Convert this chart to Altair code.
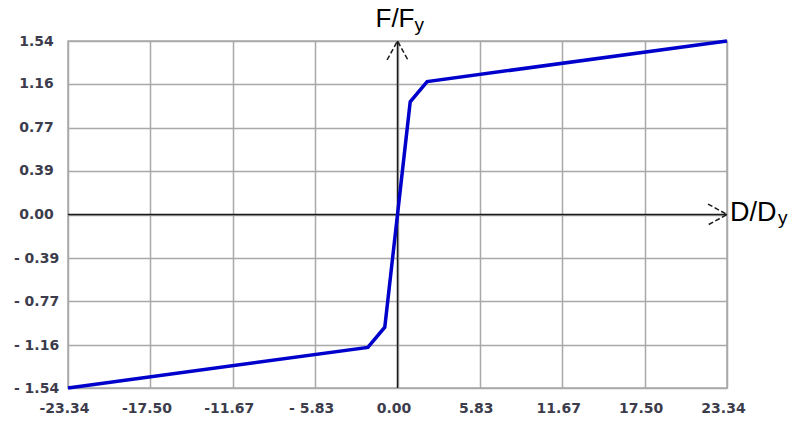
import altair as alt
import pandas as pd

# Normalised backbone curve: force / yield force against displacement / yield displacement
disp = [-23.34, -2.10, -0.90, 0.00, 0.90, 2.10, 23.34]
force = [-1.54, -1.18, -1.00, 0.00, 1.00, 1.18, 1.54]

# Axis tick positions
x_ticks = [-23.34, -17.50, -11.67, -5.83, 0.00, 5.83, 11.67, 17.50, 23.34]
y_ticks = [-1.54, -1.16, -0.77, -0.39, 0.00, 0.39, 0.77, 1.16, 1.54]

# Axis captions (main text + subscript)
x_caption = ["D/D", "y"]
y_caption = ["F/F", "y"]

X_MIN, X_MAX = x_ticks[0], x_ticks[-1]
Y_MIN, Y_MAX = y_ticks[0], y_ticks[-1]

GRID = "#a9a9a9"
INK = "#1a1a1a"
LABEL = "#3c3c4c"

curve = pd.DataFrame({"d": disp, "f": force})

xs = alt.Scale(domain=[X_MIN, X_MAX], nice=False, zero=False)
ys = alt.Scale(domain=[Y_MIN, Y_MAX], nice=False, zero=False)

# fixed-width style labels: "-23.34", "- 5.83", "0.00"
lab = ("datum.value < 0 ? (abs(datum.value) < 10 ? '- ' : '-') + format(abs(datum.value), '.2f')"
       " : format(datum.value, '.2f')")

common_axis = dict(
    grid=True, gridColor=GRID, gridWidth=1.5, domain=False, ticks=False, tickSize=0,
    labelExpr=lab, labelFont="DejaVu Sans", labelFontSize=14, labelFontWeight="bold",
    labelColor=LABEL, labelFlush=False, labelOverlap=False, labelBaseline="middle",
    title=None,
)
x_axis = alt.Axis(values=x_ticks, labelPadding=20, labelOffset=-4, **common_axis)
y_axis = alt.Axis(values=y_ticks, labelPadding=32, labelAlign="center", **common_axis)

# Frame with grid (drawn by the axes)
frame = alt.Chart(curve).mark_line(opacity=0).encode(
    x=alt.X("d:Q", scale=xs, axis=x_axis),
    y=alt.Y("f:Q", scale=ys, axis=y_axis),
)

# Coordinate axes through the origin
vaxis = pd.DataFrame({"x": [0.0], "y": [Y_MIN], "y2": [Y_MAX]})
haxis = pd.DataFrame({"y": [0.0], "x": [X_MIN], "x2": [X_MAX]})

v_rule = alt.Chart(vaxis).mark_rule(color=INK, strokeWidth=1.5).encode(
    x=alt.X("x:Q", scale=xs), y=alt.Y("y:Q", scale=ys), y2="y2:Q"
)
h_rule = alt.Chart(haxis).mark_rule(color=INK, strokeWidth=1.5).encode(
    y=alt.Y("y:Q", scale=ys), x=alt.X("x:Q", scale=xs), x2="x2:Q"
)

# Arrow heads at the ends of the coordinate axes
up_tip = pd.DataFrame({"x": [0.0], "y": [Y_MAX]})
right_tip = pd.DataFrame({"x": [X_MAX], "y": [0.0]})

up_arrow = alt.Chart(up_tip).mark_point(
    shape="M -0.55 1 L 0 0 L 0.55 1", size=1444, filled=False,
    stroke=INK, strokeWidth=1.5, strokeDash=[5, 2.5], opacity=1,
).encode(x=alt.X("x:Q", scale=xs), y=alt.Y("y:Q", scale=ys))

right_arrow = alt.Chart(right_tip).mark_point(
    shape="M -1 -0.55 L 0 0 L -1 0.55", size=1444, filled=False,
    stroke=INK, strokeWidth=1.5, strokeDash=[5, 2.5], opacity=1,
).encode(x=alt.X("x:Q", scale=xs), y=alt.Y("y:Q", scale=ys))

# Backbone curve
line = alt.Chart(curve).mark_line(color="#0000cc", strokeWidth=3.5).encode(
    x=alt.X("d:Q", scale=xs), y=alt.Y("f:Q", scale=ys)
)

# Axis captions
y_main = alt.Chart(pd.DataFrame({"x": [0.0], "y": [Y_MAX], "t": [y_caption[0]]})).mark_text(
    font="Liberation Sans", fontSize=26, color="black", align="right",
    baseline="alphabetic", dx=17, dy=-14,
).encode(x=alt.X("x:Q", scale=xs), y=alt.Y("y:Q", scale=ys), text="t:N")
y_sub = alt.Chart(pd.DataFrame({"x": [0.0], "y": [Y_MAX], "t": [y_caption[1]]})).mark_text(
    font="Liberation Sans", fontSize=19, color="black", align="left",
    baseline="alphabetic", dx=17, dy=-10,
).encode(x=alt.X("x:Q", scale=xs), y=alt.Y("y:Q", scale=ys), text="t:N")

x_main = alt.Chart(pd.DataFrame({"x": [X_MAX], "y": [0.0], "t": [x_caption[0]]})).mark_text(
    font="Liberation Sans", fontSize=27, color="black", align="left",
    baseline="alphabetic", dx=3, dy=6,
).encode(x=alt.X("x:Q", scale=xs), y=alt.Y("y:Q", scale=ys), text="t:N")
x_sub = alt.Chart(pd.DataFrame({"x": [X_MAX], "y": [0.0], "t": [x_caption[1]]})).mark_text(
    font="Liberation Sans", fontSize=19, color="black", align="left",
    baseline="alphabetic", dx=51, dy=9,
).encode(x=alt.X("x:Q", scale=xs), y=alt.Y("y:Q", scale=ys), text="t:N")

chart = alt.layer(
    frame, v_rule, h_rule, line, up_arrow, right_arrow, y_main, y_sub, x_main, x_sub
).properties(
    width=659,
    height=347,
    autosize=alt.AutoSizeParams(type="none"),
    padding={"left": 68, "top": 41, "right": 64, "bottom": 33},
    background="white",
).configure_view(
    stroke=GRID, strokeWidth=1.5
)

chart.save("out.html", embed_options={"renderer": "svg", "actions": False})
